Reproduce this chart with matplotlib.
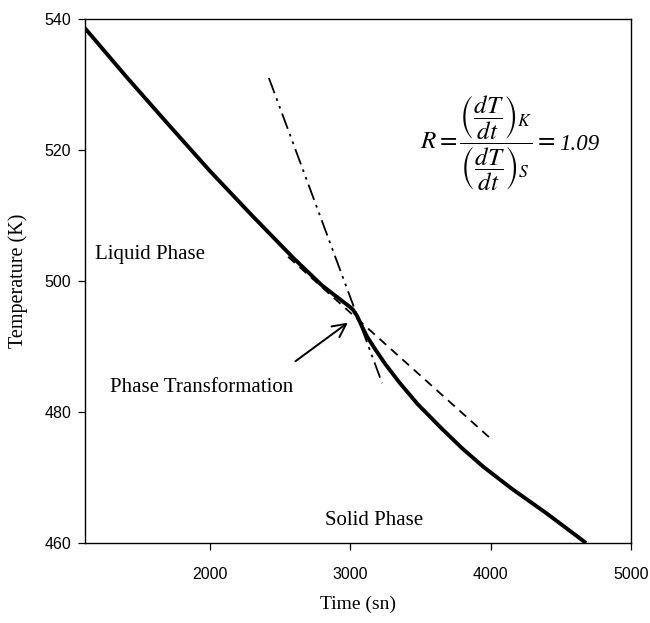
import matplotlib
matplotlib.use("Agg")
import matplotlib.pyplot as plt

# cooling curve
time_s = [1110, 1400, 1700, 2000, 2300, 2600, 2800, 3000, 3020,
          3050, 3080, 3120, 3180, 3250, 3350, 3480, 3650, 3800, 3950,
          4150, 4400, 4680]
temp_k = [538.6, 531.3, 524.0, 516.8, 510.0, 503.4, 499.3, 496.0, 495.6,
          494.6, 493.2, 491.5, 489.5, 487.3, 484.5, 481.2, 477.5, 474.4, 471.6,
          468.3, 464.5, 460.0]

# tangent lines
liq_x = [2557, 3997]
liq_y = [503.7, 476.0]
sol_x = [2420, 3227]
sol_y = [531.0, 484.4]

xticks = [2000, 3000, 4000, 5000]
yticks = [460, 480, 500, 520, 540]

plt.rcParams['mathtext.fontset'] = 'stix'

fig = plt.figure(figsize=(6.5, 6.23), dpi=100)
ax = fig.add_axes([0.1308, 0.1284, 0.84, 0.841])

ax.plot(time_s, temp_k, color='black', lw=2.8, solid_capstyle='butt')
ax.plot(liq_x, liq_y, color='black', lw=1.3, dashes=(5, 3.5))
ax.plot(sol_x, sol_y, color='black', lw=1.3, dashes=(9, 3, 1.5, 3, 1.5, 3))

ax.set_xlim(1110, 5000)
ax.set_ylim(460, 540)
ax.set_xticks(xticks)
ax.set_yticks(yticks)
ax.tick_params(direction='out', length=5, width=0.9, labelsize=11.5, pad=12)
ax.tick_params(axis='y', pad=5)
for lab in ax.get_xticklabels() + ax.get_yticklabels():
    lab.set_fontfamily('Liberation Sans')
for s in ax.spines.values():
    s.set_linewidth(1.0)

serif = 'Liberation Serif'
ax.set_xlabel('Time (sn)', fontfamily=serif, fontsize=14, labelpad=10)
ax.set_ylabel('Temperature (K)', fontfamily=serif, fontsize=14.5, labelpad=12)

ax.text(1181, 504, 'Liquid Phase', fontfamily=serif, fontsize=15, va='center')
ax.text(1288, 483.7, 'Phase Transformation', fontfamily=serif, fontsize=15, va='center')
ax.text(2821, 463.4, 'Solid Phase', fontfamily=serif, fontsize=15, va='center')

ax.annotate('', xy=(2999, 493.9), xytext=(2593, 487.5),
            arrowprops=dict(arrowstyle='->', color='black', lw=1.4,
                            mutation_scale=24))

frac = ax.text(3498, 521.0,
               r'$R=\dfrac{\left(\dfrac{dT}{dt}\right)_{K}}{\left(\dfrac{dT}{dt}\right)_{S}}=$',
               fontsize=18, ha='left', va='center')
ax.annotate('1.09', xy=(1, 0.5), xycoords=frac, xytext=(3, -1),
            textcoords='offset points', fontfamily=serif, fontstyle='italic',
            fontsize=16.5, ha='left', va='center')

fig.savefig('out.png', dpi=100)
